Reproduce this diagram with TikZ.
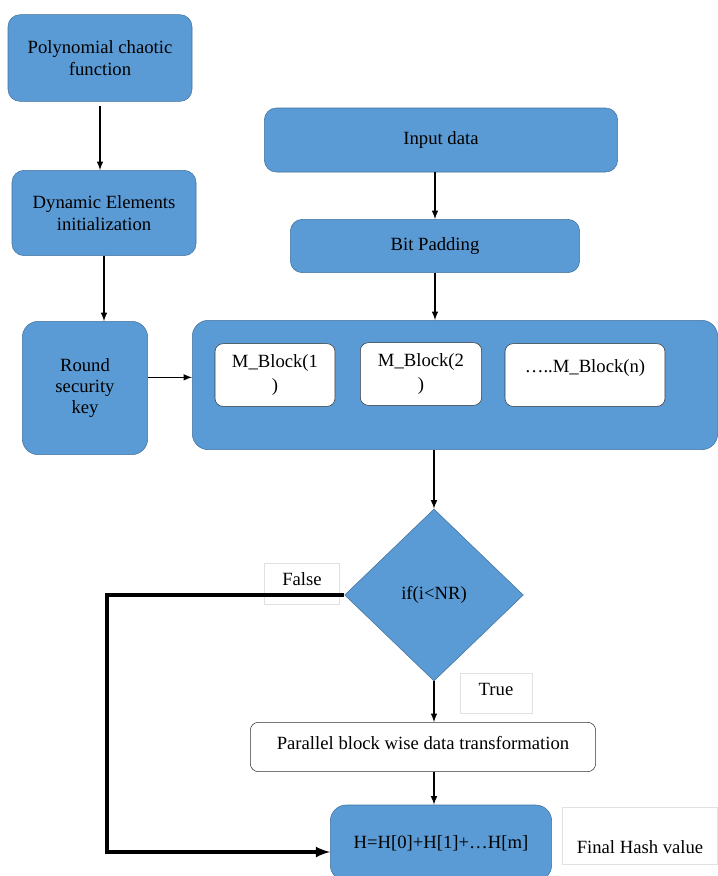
\documentclass[tikz,border=0pt]{standalone}
\usepackage{fontspec}
\setmainfont{Liberation Serif}
\usetikzlibrary{shapes.geometric}
\definecolor{boxblue}{RGB}{91,155,213}
\definecolor{edgeblue}{RGB}{65,113,156}
\definecolor{faintgray}{RGB}{225,225,225}

\begin{document}
\begin{tikzpicture}[x=0.75pt,y=-0.75pt]
    % Styles for the boxes
    \tikzset{
        blue_box/.style={
            draw=edgeblue, % thin darker border
            fill=boxblue, % blue background
            rounded corners=9pt,
            align=center,
            font=\fontsize{14}{17}\selectfont,
            inner sep=2pt
        },
        white_box/.style={
            draw=black!80,
            fill=white,
            rounded corners=6pt,
            align=center,
            font=\fontsize{14}{18}\selectfont
        },
        label_box/.style={
            draw=faintgray, % almost invisible border
            fill=white,
            align=center,
            font=\fontsize{14}{16}\selectfont
        },
        arrow/.style={->, >=latex, line width=1.2pt}
    }

    \useasboundingbox (0,0) rectangle (718,876);

    % Left column
    \node[blue_box, minimum width=138pt, minimum height=65pt] (poly) at (100,58) {Polynomial chaotic\\function};
    \node[blue_box, minimum width=138pt, minimum height=64pt] (dyn) at (104,213) {Dynamic Elements\\initialization};
    \node[blue_box, minimum width=94pt, minimum height=100pt, rounded corners=12pt,
          font=\fontsize{14}{16}\selectfont] (key) at (85,388) {Round\\security\\key};

    % Right column
    \node[blue_box, minimum width=265pt, minimum height=48pt] (input) at (441,140) {Input data};
    \node[blue_box, minimum width=217pt, minimum height=40pt] (pad) at (435,246) {Bit Padding};

    % Message blocks
    \node[blue_box, minimum width=394pt, minimum height=97pt, rounded corners=12pt] (msg) at (455,385) {};
    \node[white_box, minimum width=90pt, minimum height=47pt] (blk1) at (275,375) {M\_Block(1\\)};
    \node[white_box, minimum width=91pt, minimum height=47pt] (blk2) at (421,374) {M\_Block(2\\)};
    \node[white_box, minimum width=120pt, minimum height=47pt, text depth=14pt] (blkn) at (585,375) {\dots..M\_Block(n)};

    % Loop
    \node[diamond, draw=edgeblue, fill=boxblue, minimum width=134pt, minimum height=129pt, inner sep=0pt,
          font=\fontsize{14}{16}\selectfont] (cond) at (434,595) {if(i<NR)};
    \node[label_box, minimum width=56pt, minimum height=31pt, text height=9pt, text depth=7pt] (false) at (302,584) {False};
    \node[label_box, minimum width=54pt, minimum height=30pt, text height=9pt, text depth=5pt] (true) at (496,693) {True};
    \node[white_box, minimum width=259pt, minimum height=37pt, text depth=6pt] (trans) at (423,747) {Parallel block wise data transformation};
    \node[blue_box, minimum width=166pt, minimum height=57pt, rounded corners=12pt] (hash) at (441,843) {H=H[0]+H[1]+\dots H[m]};
    \node[label_box, minimum width=116pt, minimum height=43pt, text height=26pt, text depth=0pt] (final) at (640,836) {Final Hash value};

    % Connectors
    \coordinate (loop) at (107,852);
    \draw[arrow] ([yshift=-3pt]poly.south) -- (poly.south |- dyn.north);
    \draw[arrow] (dyn.south) -- (dyn.south |- key.north);
    \draw[arrow] ([yshift=8pt]key.east) -- ([yshift=8pt]key.east -| msg.west);
    \draw[arrow] (input.south -| pad.north) -- (pad.north);
    \draw[arrow] (pad.south) -- (pad.south |- msg.north);
    \draw[arrow] (cond.north |- msg.south) -- (cond.north);
    \draw[arrow] (cond.south) -- (cond.south |- trans.north);
    \draw[arrow] (cond.south |- trans.south) -- (cond.south |- hash.north);
    \draw[->, >=latex, line width=2.6pt] (cond.west) -| (loop) -- (loop -| hash.west);

\end{tikzpicture}
\end{document}
